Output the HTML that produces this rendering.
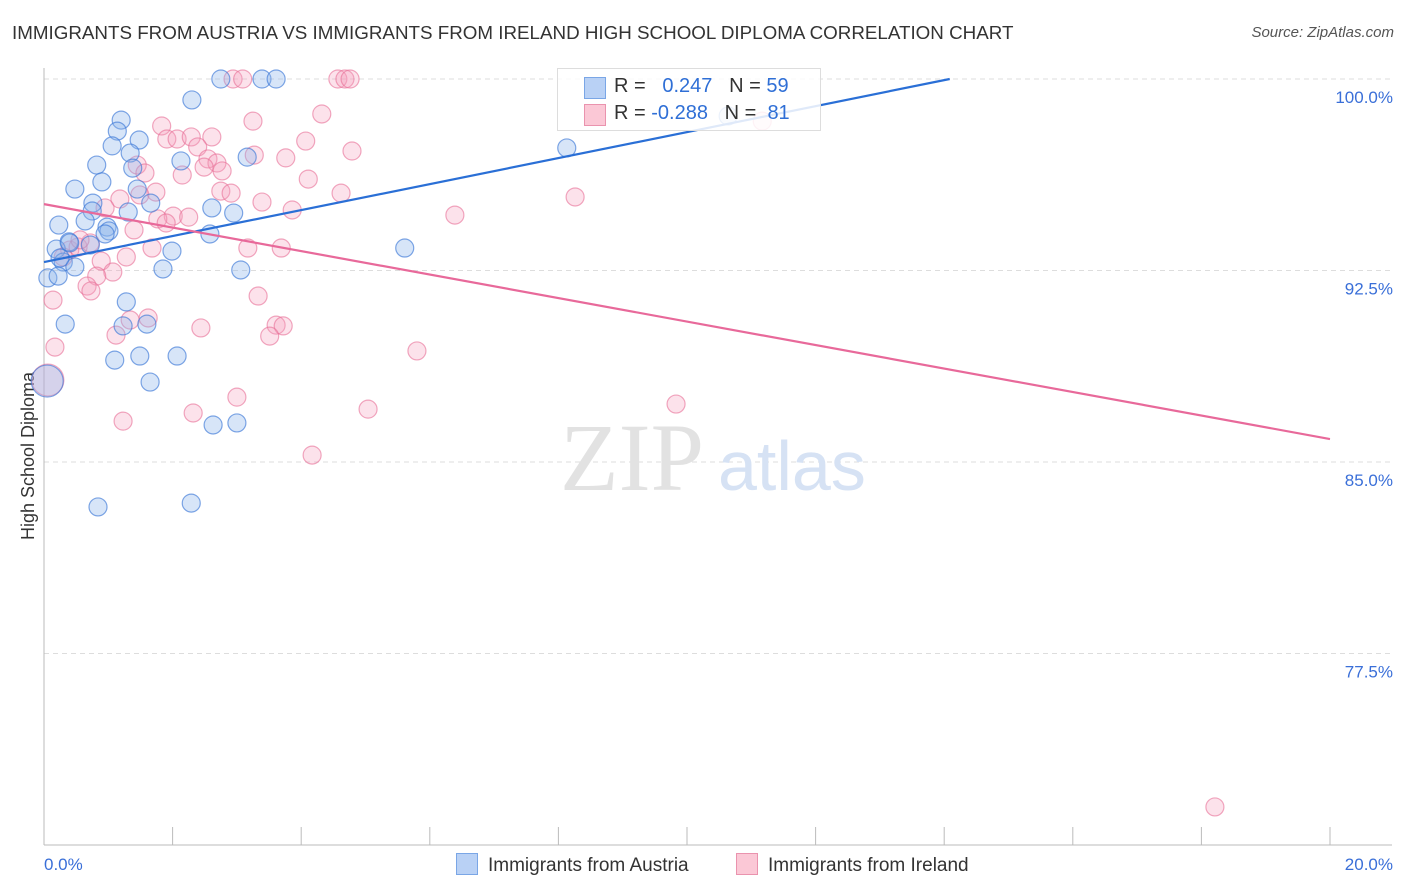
<!DOCTYPE html>
<html><head><meta charset="utf-8">
<style>
body{margin:0;background:#fff;font-family:"Liberation Sans",sans-serif;}
#wrap{position:relative;width:1406px;height:892px;overflow:hidden;}
.t{position:absolute;white-space:nowrap;}
</style></head>
<body>
<div id="wrap">
<div class="t" style="left:12px;top:22px;font-size:18.8px;color:#333;">IMMIGRANTS FROM AUSTRIA VS IMMIGRANTS FROM IRELAND HIGH SCHOOL DIPLOMA CORRELATION CHART</div>
<div class="t" style="right:12px;top:24px;font-size:15px;color:#555;font-style:italic;">Source: ZipAtlas.com</div>
<svg id="svg" width="1406" height="892" style="position:absolute;left:0;top:0"></svg>
</div>
<script>
const xTicks=[0,2,4,6,8,10,12,14,16,18,20];
const yTicks=[100,92.5,85,77.5];
const yTickLabels=["100.0%","92.5%","85.0%","77.5%"];
const xTickLabels=["0.0%","20.0%"];
const austriaX=[2.75,3.39,3.61,2.30,1.20,1.14,1.48,1.06,1.34,0.82,2.13,3.16,1.38,0.90,0.48,1.45,1.66,0.76,0.75,2.61,2.95,1.31,0.23,0.64,0.98,1.01,0.95,2.58,0.39,0.72,0.19,1.99,5.61,0.30,0.48,1.85,3.06,0.06,0.22,1.28,0.33,1.23,1.60,1.10,1.49,2.07,1.65,0.05,2.63,3.00,0.84,2.29,8.13,10.64,0.40,0.25];
const austriaY=[100,100,100,99.18,98.39,97.96,97.61,97.38,97.10,96.63,96.79,96.94,96.51,95.97,95.69,95.69,95.14,95.14,94.83,94.95,94.75,94.79,94.28,94.44,94.20,94.05,93.93,93.93,93.62,93.50,93.34,93.26,93.38,92.83,92.64,92.56,92.52,92.21,92.28,91.27,90.40,90.33,90.40,88.99,89.15,89.15,88.13,88.17,86.45,86.53,83.24,83.39,97.30,98.55,93.58,92.99];
const irelandX=[2.94,3.09,4.57,4.68,4.76,1.83,1.91,2.07,2.29,2.61,2.39,2.55,2.69,2.49,2.77,2.15,3.25,4.32,4.07,4.79,3.27,3.76,4.11,4.62,2.75,2.91,3.39,3.86,1.45,1.57,1.74,1.49,1.18,0.95,2.01,2.25,1.77,1.90,1.40,1.68,3.17,3.69,1.28,0.89,1.07,0.82,0.67,0.73,0.40,0.30,0.53,0.14,3.33,1.34,1.62,1.12,2.44,3.61,3.72,3.51,5.80,0.17,0.06,3.00,2.32,5.04,1.23,4.17,6.39,8.26,9.83,11.17,18.21,0.72,0.56];
const irelandY=[100,100,100,100,100,98.16,97.65,97.65,97.73,97.73,97.34,96.87,96.71,96.55,96.40,96.24,98.35,98.63,97.57,97.18,97.02,96.91,96.08,95.53,95.61,95.53,95.18,94.87,96.63,96.32,95.57,95.46,95.30,94.95,94.63,94.59,94.52,94.36,94.09,93.38,93.38,93.38,93.03,92.87,92.44,92.28,91.89,91.70,93.30,93.03,93.42,91.34,91.50,90.56,90.64,89.97,90.25,90.36,90.33,89.93,89.35,89.50,88.21,87.54,86.92,87.07,86.60,85.27,94.67,95.38,87.27,98.35,71.49,93.58,93.70];
const austriaBig=[47];
const irelandBig=[62];
const austriaTrend=[92.83,103.01];
const irelandTrend=[95.10,85.90];

const X0=44,X1=1330,Y0=79,Y1=845,XMIN=0,XMAX=20,YMIN=70,YMAX=100;
const xs=v=>X0+(v-XMIN)/(XMAX-XMIN)*(X1-X0);
const ys=v=>Y1-(v-YMIN)/(YMAX-YMIN)*(Y1-Y0);
const svg=document.getElementById('svg');
const NS='http://www.w3.org/2000/svg';
function mk(tag,attrs){const e=document.createElementNS(NS,tag);for(const k in attrs)e.setAttribute(k,attrs[k]);svg.appendChild(e);return e;}

yTicks.forEach((t,i)=>{
  const g=mk('line',{x1:X0,x2:1392,y1:ys(t),y2:ys(t),stroke:'#ddd','stroke-dasharray':'5,4'});
  
  
  const tx=mk('text',{x:1393,y:ys(t)+24,'text-anchor':'end','font-size':17,fill:'#3a6fd8','font-family':'Liberation Sans, sans-serif'});
  tx.textContent=yTickLabels[i];
  
  
});
const ax=mk('line',{x1:X0,x2:1392,y1:Y1,y2:Y1,stroke:'#bbb'});


const ay=mk('line',{x1:X0,x2:X0,y1:68,y2:Y1,stroke:'#bbb'});


xTicks.forEach(t=>{
  const l=mk('line',{x1:xs(t),x2:xs(t),y1:Y1,y2:Y1-18,stroke:'#bbb'});
  
  
});
const xl0=mk('text',{x:44,y:870,'font-size':17,fill:'#3a6fd8','font-family':'Liberation Sans, sans-serif'});
xl0.textContent=xTickLabels[0];


const xl1=mk('text',{x:1393,y:870,'text-anchor':'end','font-size':17,fill:'#3a6fd8','font-family':'Liberation Sans, sans-serif'});
xl1.textContent=xTickLabels[1];


const yt=mk('text',{x:34,y:456,'text-anchor':'middle','font-size':18,fill:'#333',transform:'rotate(-90 34 456)','font-family':'Liberation Sans, sans-serif'});
yt.textContent='High School Diploma';


const w1=mk('text',{x:632,y:490,'text-anchor':'middle','font-size':96,fill:'#e2e2e2','font-family':'Liberation Serif, serif'});
w1.textContent='ZIP';


const w2=mk('text',{x:718,y:490,'font-size':70,fill:'#d6e2f4','font-family':'Liberation Sans, sans-serif'});
w2.textContent='atlas';



function pts(X,Y,big,fill,stroke,name){
  X.forEach((x,i)=>{
    const c=mk('circle',{cx:xs(x),cy:ys(Y[i]),r:big.includes(i)?16:9,fill:fill,stroke:stroke,'stroke-width':1.2});
    
    
  });
}
pts(irelandX,irelandY,irelandBig,'rgba(246,160,188,0.3)','rgba(232,110,150,0.6)','ireland-point');
pts(austriaX,austriaY,austriaBig,'rgba(140,180,235,0.35)','rgba(60,120,215,0.65)','austria-point');

const slopeA=(austriaTrend[1]-austriaTrend[0])/(XMAX-XMIN);
const bEnd=Math.min(XMAX,(100-austriaTrend[0])/slopeA);
const bt=mk('line',{x1:xs(0),y1:ys(austriaTrend[0]),x2:xs(bEnd),y2:ys(austriaTrend[0]+slopeA*bEnd),stroke:'#2a6fd6','stroke-width':2.2});


const pt=mk('line',{x1:xs(0),y1:ys(irelandTrend[0]),x2:xs(20),y2:ys(irelandTrend[1]),stroke:'#e8699a','stroke-width':2.2});


</script>
<div class="t" style="left:557px;top:68px;width:262px;height:61px;border:1px solid #ddd;background:rgba(255,255,255,0.85);font-size:20px;color:#333;">
  <div style="position:absolute;left:26px;top:8px;width:20px;height:20px;background:#b9d1f5;border:1px solid #7aa6e6;"></div>
  <div style="position:absolute;left:56px;top:6px;">R = &nbsp;&nbsp;<span style="color:#2f6fd6">0.247</span>&nbsp;&nbsp;&nbsp;N = <span style="color:#2f6fd6">59</span></div>
  <div style="position:absolute;left:26px;top:35px;width:20px;height:20px;background:#fbc8d6;border:1px solid #ea93ae;"></div>
  <div style="position:absolute;left:56px;top:33px;">R = <span style="color:#2f6fd6">-0.288</span>&nbsp;&nbsp;&nbsp;N = &nbsp;<span style="color:#2f6fd6">81</span></div>
</div>
<div class="t" style="left:456px;top:853px;font-size:19px;color:#333;"><span style="display:inline-block;width:20px;height:20px;background:#b9d1f5;border:1px solid #7aa6e6;vertical-align:-4px;margin-right:10px;"></span>Immigrants from Austria</div>
<div class="t" style="left:736px;top:853px;font-size:19px;color:#333;"><span style="display:inline-block;width:20px;height:20px;background:#fbc8d6;border:1px solid #ea93ae;vertical-align:-4px;margin-right:10px;"></span>Immigrants from Ireland</div>
</body></html>
